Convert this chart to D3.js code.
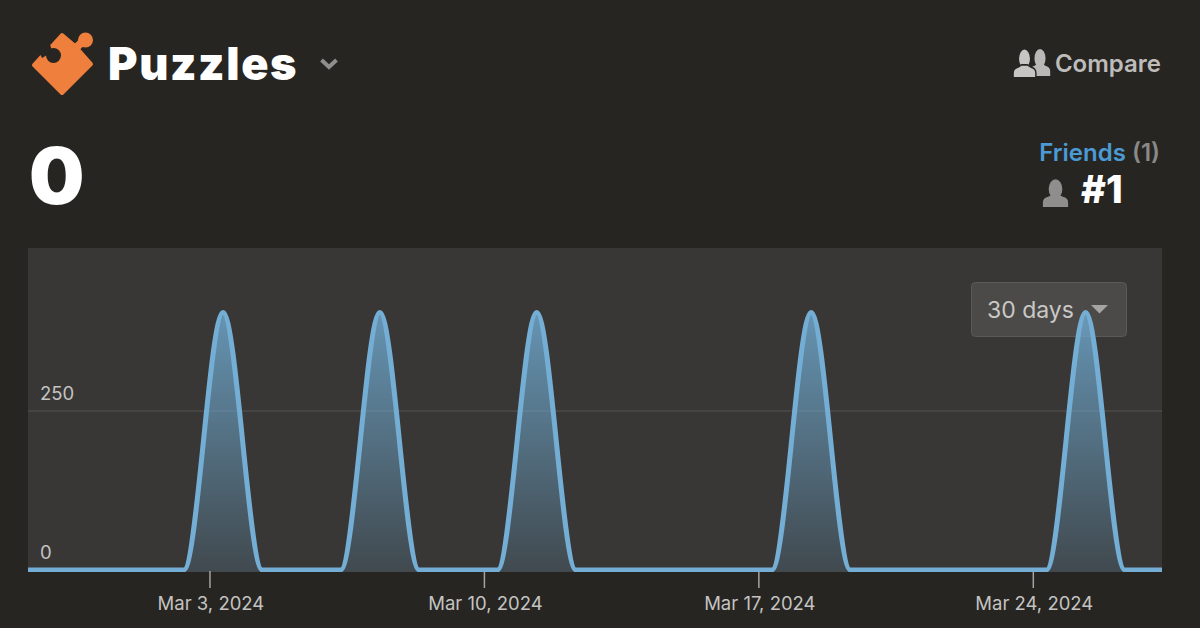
<!DOCTYPE html>
<html><head><meta charset="utf-8">
<script src="https://cdn.jsdelivr.net/npm/d3@7"></script>
<style>html,body{margin:0;padding:0;background:#262522;overflow:hidden}svg{display:block}</style>
</head><body><svg id="c" width="1200" height="628"></svg>
<script>
const dayCount = 30;
const startDay = "2024-02-27";
const peakDays = ["2024-03-03","2024-03-07","2024-03-11","2024-03-18","2024-03-25"];
const peakValue = 405;
const tickDays = ["2024-03-03","2024-03-10","2024-03-17","2024-03-24"];
const yTicks = [0,250];
const parse = d3.utcParse("%Y-%m-%d");
const stamp = d3.utcFormat("%Y-%m-%d");
const days = d3.utcDay.range(parse(startDay), d3.utcDay.offset(parse(startDay), dayCount));
const series = days.map(d => {
  const t = d3.utcHour.offset(d, 8);
  return {t, v: peakDays.includes(stamp(d)) ? peakValue : 0};
});
const svg = d3.select("#c");
const sans = "Inter, 'Noto Sans', sans-serif";
const bg = "#262522";
const defs = svg.append("defs");
const g = defs.append("linearGradient").attr("id","fill").attr("x1",0).attr("x2",0).attr("y1",0).attr("y2",1);
g.append("stop").attr("offset",0).attr("stop-color","#6fa9cf").attr("stop-opacity",.82);
g.append("stop").attr("offset",1).attr("stop-color","#6fa9cf").attr("stop-opacity",.16);

const panel = {l:28,r:1162,t:248,b:572};
svg.append("rect").attr("x",panel.l).attr("y",panel.t).attr("width",panel.r-panel.l).attr("height",panel.b-panel.t).attr("fill","#383736");

const x = d3.scaleUtc().domain([series[0].t, series[series.length-1].t]).range([27,1164]);
const y = d3.scaleLinear().domain([0,250]).range([570,411]);

svg.append("g").selectAll("line").data(yTicks.filter(d=>d>0)).join("line")
  .attr("x1",panel.l).attr("x2",panel.r).attr("y1",d=>y(d)).attr("y2",d=>y(d)).attr("stroke","#555452").attr("stroke-width",1);
svg.append("g").selectAll("text").data(yTicks).join("text")
  .attr("x",40).attr("y",d=>y(d)-11.5).text(d=>d).attr("font-family",sans).attr("font-size",18.5).attr("fill","#c4c3c1");

// dropdown sits under the curve
const dd = svg.append("g");
dd.append("rect").attr("x",971.5).attr("y",282.5).attr("width",155).attr("height",54).attr("rx",4)
  .attr("fill","#4b4a48").attr("stroke","#5a5957").attr("stroke-width",1);
dd.append("text").attr("x",987).attr("y",318).text("30 days").attr("font-family",sans).attr("font-size",23).attr("fill","#c9c8c6");
dd.append("path").attr("d","M1091 305h17l-8.500 8.500z").attr("fill","#a5a4a2");

svg.append("clipPath").attr("id","pc").append("rect").attr("x",panel.l).attr("y",panel.t).attr("width",panel.r-panel.l).attr("height",panel.b-panel.t);
const plot = svg.append("g").attr("clip-path","url(#pc)");
const area = d3.area().x(d=>x(d.t)).y0(y(0)+2).y1(d=>y(d.v)).curve(d3.curveMonotoneX);
const line = d3.line().x(d=>x(d.t)).y(d=>y(d.v)).curve(d3.curveMonotoneX);
plot.append("path").datum(series).attr("d",area).attr("fill","url(#fill)");
plot.append("path").datum(series).attr("d",line).attr("fill","none").attr("stroke","#74aed5").attr("stroke-width",5);

const tf = d3.utcFormat("%b %-d, %Y");
const ticks = tickDays.map(parse);
svg.append("g").selectAll("line").data(ticks).join("line")
  .attr("x1",d=>x(d)).attr("x2",d=>x(d)).attr("y1",571).attr("y2",588).attr("stroke","#a5a4a2").attr("stroke-width",1.5);
svg.append("g").selectAll("text").data(ticks).join("text")
  .attr("x",d=>x(d)+1).attr("y",610).attr("text-anchor","middle").text(tf)
  .attr("font-family",sans).attr("font-size",18.5).attr("fill","#c4c3c1");

// header icon: rounded puzzle piece
const icon = svg.append("g");
icon.append("path").attr("d","M62 35L75 46L91 64L62 93L34 65L44 54L52 46Z")
  .attr("fill","#ef7f3c").attr("stroke","#ef7f3c").attr("stroke-width",4).attr("stroke-linejoin","round");
icon.append("path").attr("d","M72 52L84 40").attr("stroke","#ef7f3c").attr("stroke-width",8);
icon.append("circle").attr("cx",85.5).attr("cy",40).attr("r",7.5).attr("fill","#ef7f3c");
icon.append("circle").attr("cx",53.5).attr("cy",55.5).attr("r",7.5).attr("fill",bg);
icon.append("path").attr("d","M38 50L50 44L52 52L42 58Z").attr("fill",bg);

svg.append("text").attr("x",108).attr("y",80).text("Puzzles").attr("font-family",sans).attr("font-weight",900).attr("font-size",45).attr("letter-spacing",1.6).attr("fill","#ffffff");
svg.append("path").attr("d","M321.500 60l7.500 7 7.500-7").attr("fill","none").attr("stroke","#8f8e8c").attr("stroke-width",4);
svg.append("text").attr("x",29).attr("y",204).text("0").attr("font-family",sans).attr("font-weight",900).attr("font-size",78).attr("fill","#ffffff");

function person(px,py,sx,sy,fill,outline){
  const p = svg.append("g").attr("transform",`translate(${px},${py}) scale(${sx},${sy})`).attr("fill",fill);
  if(outline) p.attr("stroke",outline).attr("stroke-width",1.5);
  p.append("ellipse").attr("cx",0).attr("cy",-16).attr("rx",6.5).attr("ry",8.5);
  p.append("path").attr("d","M-12 0v-4q0-4 5-5l4-2h6l4 2q5 1 5 5v4z");
}
person(1040,76,0.85,1.1,"#b9b8b6");
person(1024.5,78,0.95,1.2,"#c6c5c3",bg);
svg.append("text").attr("x",1161).attr("y",72).attr("text-anchor","end").text("Compare").attr("font-family",sans).attr("font-weight",600).attr("font-size",24).attr("fill","#bdbcba");
const fr = svg.append("text").attr("x",1160).attr("y",161).attr("text-anchor","end").attr("font-family",sans).attr("font-weight",600).attr("font-size",24);
fr.append("tspan").text("Friends ").attr("fill","#4b9ad4");
fr.append("tspan").text("(1)").attr("fill","#8a8987");
person(1055.5,207,1.05,1.13,"#8f8e8c");
svg.append("text").attr("x",1081).attr("y",203).text("#1").attr("font-family",sans).attr("font-weight",800).attr("font-size",38).attr("fill","#ffffff");
</script></body></html>
